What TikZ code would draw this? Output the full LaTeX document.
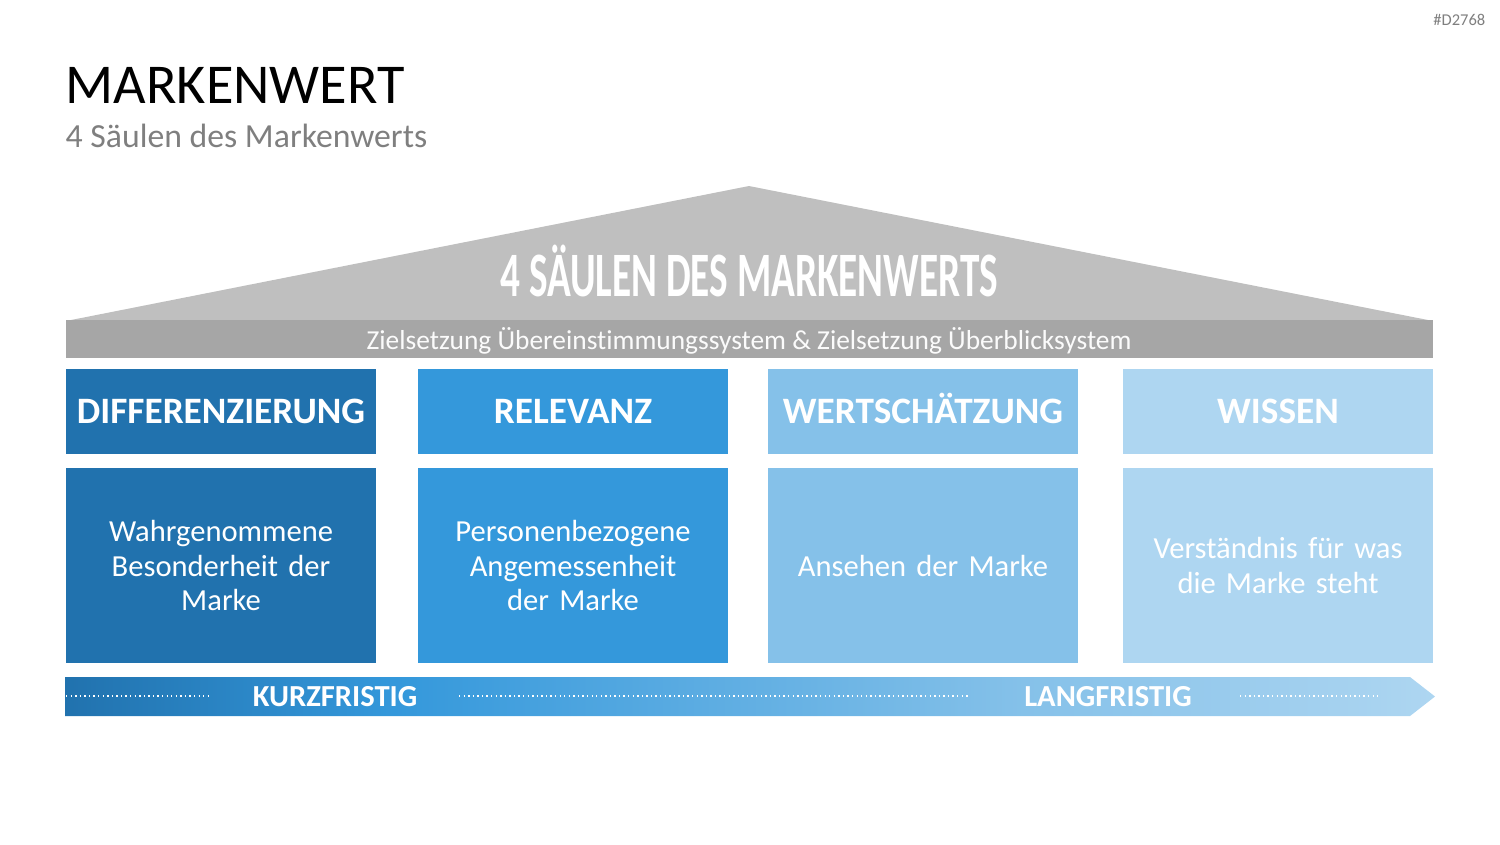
\documentclass[tikz,border=0pt]{standalone}
\usepackage{fontspec}
\usepackage{graphicx}
\setmainfont{Carlito}[Ligatures=NoCommon]
\usetikzlibrary{positioning}
\definecolor{mwdark}{HTML}{2172AE}
\definecolor{mwmid}{HTML}{3498DB}
\definecolor{mwlight}{HTML}{85C1E9}
\definecolor{mwpale}{HTML}{AED6F1}
\definecolor{mwroof}{HTML}{BFBFBF}
\definecolor{mwband}{HTML}{A6A6A6}
\definecolor{mwgrey}{HTML}{7F7F7F}
\pgfdeclarehorizontalshading{mwtime}{100bp}{color(0bp)=(mwdark); color(25bp)=(mwdark); color(37bp)=(mwmid); color(60bp)=(mwlight); color(75bp)=(mwpale); color(100bp)=(mwpale)}

\begin{document}
\begin{tikzpicture}[x=0.1mm, y=-0.1mm]
  \tikzset{
    pillarhead/.style={minimum width=31mm, minimum height=8.5mm, inner sep=0pt, text height=6.7pt, text depth=0pt, text=white, font=\fontsize{10.6}{12}\selectfont\bfseries},
    pillarbody/.style={minimum width=31mm, minimum height=19.5mm, inner sep=0pt, text width=29mm, align=center, text=white, font=\fontsize{8.7}{9.7}\selectfont},
    timelabel/.style={text=white, inner sep=0pt, font=\fontsize{8.7}{10}\selectfont\bfseries},
    dotline/.style={white, line width=0.4pt, dash pattern=on 0.4pt off 0.9pt}
  }
  \useasboundingbox (0,0) rectangle (1500,844);

  % Kopf
  \node[anchor=east, text=mwgrey, inner sep=0pt, font=\fontsize{4.7}{5}\selectfont] (tag) at (1486,20) {\#D2768};
  \node[anchor=base west, inner sep=0pt, font=\fontsize{16}{18}\selectfont] (title) at (65,103) {MARKENWERT};
  \node[anchor=base west, inner sep=0pt, text=mwgrey, font=\fontsize{9.6}{11}\selectfont] (subtitle) at (65,147) {4 Säulen des Markenwerts};

  % Dach
  \fill[mwroof] (66,321) -- (749,186) -- (1433,321) -- cycle;
  \fill[mwband] (66,320) rectangle (1433,358);
  \node[anchor=base, inner sep=0pt, text=white, font=\fontsize{18}{20}\selectfont\bfseries] (roof) at (749,296) {\scalebox{0.62}[1]{4 SÄULEN DES MARKENWERTS}};
  \node[anchor=base, inner sep=0pt, text=white!95!mwband, font=\fontsize{7.8}{9}\selectfont] (goal) at (749,349) {Zielsetzung Übereinstimmungssystem \& Zielsetzung Überblicksystem};

  % Saeulen
  \node[pillarhead, fill=mwdark]  (hDiff) at (221,411.5)  {DIFFERENZIERUNG};
  \node[pillarhead, fill=mwmid]   (hRel)  at (573,411.5)  {RELEVANZ};
  \node[pillarhead, fill=mwlight] (hWert) at (923,411.5)  {WERTSCHÄTZUNG};
  \node[pillarhead, fill=mwpale]  (hWiss) at (1278,411.5) {WISSEN};

  \node[pillarbody, fill=mwdark]  (bDiff) at (221,565.5)  {Wahrgenommene\\Besonderheit der\\Marke};
  \node[pillarbody, fill=mwmid]   (bRel)  at (573,565.5)  {Personenbezogene\\Angemessenheit\\der Marke};
  \node[pillarbody, fill=mwlight] (bWert) at (923,565.5)  {Ansehen der Marke};
  \node[pillarbody, fill=mwpale]  (bWiss) at (1278,565.5) {Verständnis für was\\die Marke steht};

  % Zeitpfeil
  \shade[shading=mwtime] (65,677) -- (1410,677) -- (1435,696.5) -- (1410,716) -- (65,716) -- cycle;
  \node[timelabel] (kurz) at (335,697) {KURZFRISTIG};
  \node[timelabel] (lang) at (1108,697) {LANGFRISTIG};
  \draw[dotline] (66,696) -- (208,696);
  \draw[dotline] (459,696) -- (970,696);
  \draw[dotline] (1240,696) -- (1380,696);
\end{tikzpicture}
\end{document}
